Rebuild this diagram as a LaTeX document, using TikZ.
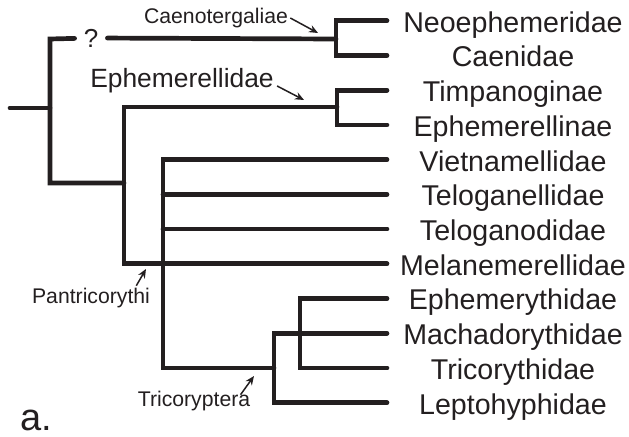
\documentclass[tikz,border=0pt]{standalone}
\usepackage{fontspec}
\setmainfont{Liberation Sans}
\usetikzlibrary{arrows.meta}
\definecolor{ink}{HTML}{231F20}

\begin{document}
\begin{tikzpicture}[x=0.5pt,y=-0.5pt,ink,
    branch/.style={line width=2.35pt,line cap=round},
    taxon/.style={anchor=base,inner sep=0pt,font=\fontsize{14.3}{16}\selectfont},
    grouplab/.style={inner sep=0pt,font=\fontsize{10.6}{12}\selectfont},
    callout/.style={line width=0.75pt,-{Stealth[length=4.5pt,width=3.8pt]}}]
  \useasboundingbox (0,0) rectangle (629,437);

  % tips
  \coordinate (neo) at (387,20.7);
  \coordinate (cae) at (387,55.4);
  \coordinate (timp) at (387,90.2);
  \coordinate (ephl) at (387,124.9);
  \coordinate (viet) at (387,159.6);
  \coordinate (telg) at (387,194.4);
  \coordinate (teld) at (387,229.1);
  \coordinate (mel) at (387,263.8);
  \coordinate (ephy) at (387,298.5);
  \coordinate (mach) at (387,333.3);
  \coordinate (tric) at (387,368.0);
  \coordinate (lept) at (387,402.7);

  \node[taxon] (neo-l) at (513,32.2) {Neoephemeridae};
  \node[taxon] (cae-l) at (513,66.9) {Caenidae};
  \node[taxon] (timp-l) at (513,101.7) {Timpanoginae};
  \node[taxon] (ephl-l) at (513,136.4) {Ephemerellinae};
  \node[taxon] (viet-l) at (513,171.1) {Vietnamellidae};
  \node[taxon] (telg-l) at (513,205.9) {Teloganellidae};
  \node[taxon] (teld-l) at (513,240.6) {Teloganodidae};
  \node[taxon] (mel-l) at (513,275.3) {Melanemerellidae};
  \node[taxon] (ephy-l) at (513,310.0) {Ephemerythidae};
  \node[taxon] (mach-l) at (513,344.8) {Machadorythidae};
  \node[taxon] (tric-l) at (513,379.5) {Tricorythidae};
  \node[taxon] (lept-l) at (513,414.2) {Leptohyphidae};

  % inner nodes
  \coordinate (r0) at (10,108);
  \coordinate (root) at (50,108);
  \coordinate (aTop) at (50,39);
  \coordinate (aBot) at (50,183);
  \coordinate (cN) at (336,39);
  \coordinate (cE) at (337,107);
  \coordinate (b) at (124,183);
  \coordinate (pB) at (163,368.0);
  \coordinate (tr) at (274,368.0);
  \coordinate (ti) at (300,333.3);

  \node[inner sep=4.4pt,font=\fontsize{13}{15}\selectfont] (q) at (91,38) {?};

  \draw[branch] (r0) -- (root);
  \draw[branch] (q) -- (aTop) -- (aBot) -- (b);
  \draw[branch] (q) -- (cN);
  \draw[branch] (neo) -| (cN) |- (cae);
  \draw[branch] (timp) -| (cE) |- (ephl);
  \draw[branch] (cE) -| (b) |- (mel);
  \draw[branch] (viet) -| (pB) -- (tr);
  \draw[branch] (telg) -- (telg -| pB);
  \draw[branch] (teld) -- (teld -| pB);
  \draw[branch] (lept) -| (tr) |- (mach);
  \draw[branch] (ephy) -| (ti) |- (tric);

  % clade names
  \node[grouplab] (caeno) at (216,18) {Caenotergaliae};
  \coordinate (caenoTip) at (318,33);
  \draw[callout] ([xshift=1pt]caeno.east) -- (caenoTip);

  \node[inner sep=0pt,font=\fontsize{13.2}{15}\selectfont] (ephe) at (182,81) {Ephemerellidae};
  \coordinate (epheTip) at (304,100);
  \draw[callout] ([xshift=1.5pt,yshift=-2.5pt]ephe.east) -- (epheTip);

  \node[grouplab] (pant) at (91,298) {Pantricorythi};
  \coordinate (pantTip) at (146,269);
  \draw[callout] ([xshift=-7pt,yshift=1pt]pant.north east) -- (pantTip);

  \node[grouplab] (tcp) at (194,401) {Tricoryptera};
  \coordinate (tcpTip) at (254,376);
  \draw[callout] ([xshift=-5pt,yshift=-2pt]tcp.north east) -- (tcpTip);

  % panel
  \node[inner sep=0pt,font=\fontsize{19}{21}\selectfont] (panel) at (36,420) {a.};
\end{tikzpicture}
\end{document}
